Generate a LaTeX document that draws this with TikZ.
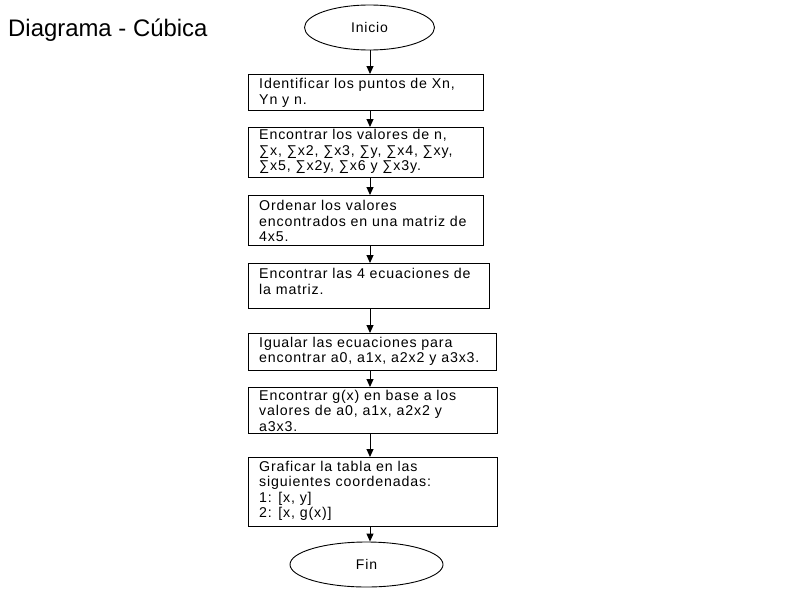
\documentclass[tikz,border=0pt]{standalone}
\usepackage{fontspec}
\setmainfont{Liberation Sans}
\newfontfamily\bodyfont{Liberation Sans}[LetterSpace=6]
\usetikzlibrary{arrows.meta,shapes.geometric}
\begin{document}
\begin{tikzpicture}[x=1pt,y=-1pt,
  fbox/.style={draw=black, line width=1pt, anchor=north west, inner sep=0pt},
  term/.style={draw=black, line width=0.9pt, ellipse, inner sep=0pt, font=\bodyfont\fontsize{14pt}{15.5pt}\selectfont},
  ftext/.style={anchor=north west, inner sep=0pt, align=left, font=\bodyfont\fontsize{14.2pt}{15.5pt}\selectfont},
  arr/.style={draw=black, line width=1pt, -{Triangle[length=8pt,width=7pt]}}
]
\fill[white] (0,0) rectangle (800,600);
\useasboundingbox (0,0) rectangle (800,600);

\node[anchor=base west, inner sep=0pt, font=\fontsize{23.9pt}{28pt}\selectfont] (title) at (8,36) {Diagrama - Cúbica};

\coordinate (ax) at (370,0);

\node[term, minimum width=130pt, minimum height=45pt] (ini) at (369.5,27.5) {Inicio};

\node[fbox, minimum width=235pt, minimum height=36pt] (b1) at (248,74) {};
\node[ftext] (t1) at ([shift={(11,3.6)}]b1.north west) {\strut Identificar los puntos de Xn,\\Yn y n.};

\node[fbox, minimum width=235pt, minimum height=50pt] (b2) at (248,127) {};
\node[ftext] (t2) at ([shift={(11,1.6)}]b2.north west) {\strut Encontrar los valores de n,\\ ∑x, ∑x2, ∑x3, ∑y, ∑x4, ∑xy,\\ ∑x5, ∑x2y, ∑x6 y ∑x3y.};

\node[fbox, minimum width=235pt, minimum height=50pt] (b3) at (248,195) {};
\node[ftext] (t3) at ([shift={(11,4.6)}]b3.north west) {\strut Ordenar los valores\\encontrados en una matriz de\\4x5.};

\node[fbox, minimum width=241pt, minimum height=45pt] (b4) at (248,263) {};
\node[ftext] (t4) at ([shift={(11,4.6)}]b4.north west) {\strut Encontrar las 4 ecuaciones de\\la matriz.};

\node[fbox, minimum width=248pt, minimum height=37pt] (b5) at (248,333) {};
\node[ftext] (t5) at ([shift={(11,3)}]b5.north west) {\strut Igualar las ecuaciones para\\encontrar a0, a1x, a2x2 y a3x3.};

\node[fbox, minimum width=249pt, minimum height=46pt] (b6) at (248,387) {};
\node[ftext] (t6) at ([shift={(11,2)}]b6.north west) {\strut Encontrar g(x) en base a los\\valores de a0, a1x, a2x2 y\\a3x3.};

\node[fbox, minimum width=249pt, minimum height=69pt] (b7) at (248,457) {};
\node[ftext] (t7) at ([shift={(11,3)}]b7.north west) {\strut Graficar la tabla en las\\siguientes coordenadas:\\1: [x, y]\\2: [x, g(x)]};

\node[term, minimum width=153pt, minimum height=45pt] (fin) at (366.5,564.5) {Fin};

\draw[arr] (ini.south -| ax) -- (b1.north -| ax);
\draw[arr] (b1.south -| ax) -- (b2.north -| ax);
\draw[arr] (b2.south -| ax) -- (b3.north -| ax);
\draw[arr] (b3.south -| ax) -- (b4.north -| ax);
\draw[arr] (b4.south -| ax) -- (b5.north -| ax);
\draw[arr] (b5.south -| ax) -- (b6.north -| ax);
\draw[arr] (b6.south -| ax) -- (b7.north -| ax);
\draw[arr] (b7.south -| ax) -- (fin.north -| ax);
\end{tikzpicture}
\end{document}
